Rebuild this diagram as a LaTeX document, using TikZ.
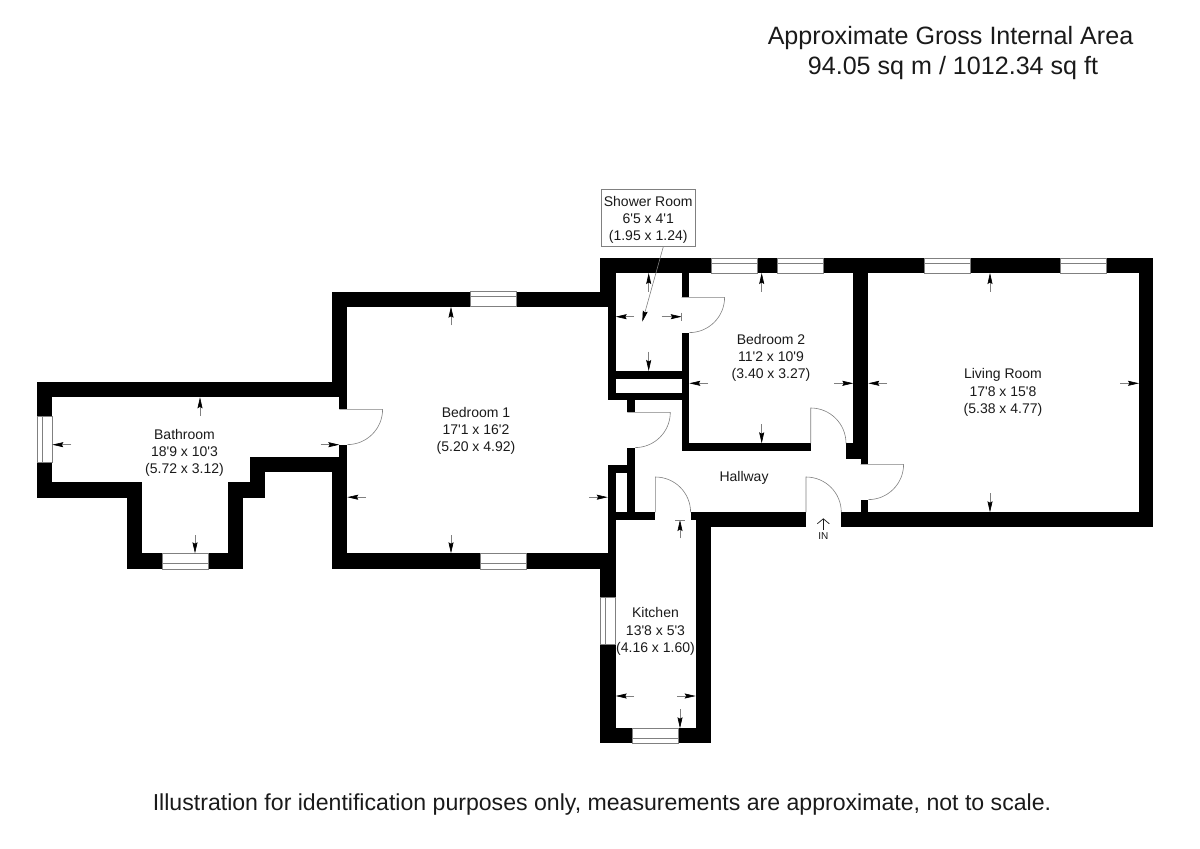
\documentclass[tikz,border=0pt]{standalone}
\usepackage{fontspec}
\setmainfont{Liberation Sans}
\usetikzlibrary{arrows.meta}
\definecolor{ink}{HTML}{1a1a1a}
\definecolor{thin}{HTML}{808080}
\newcommand{\ap}{\textquotesingle{}}
\tikzset{
  wallfill/.style={fill=black,draw=none},
  winbox/.style={fill=white,draw=thin,line width=0.6pt},
  winline/.style={draw=thin,line width=0.6pt},
  doorline/.style={draw=thin,line width=0.6pt},
  dimarrow/.style={draw=thin,line width=0.6pt,-{Stealth[length=11pt,width=5pt,inset=1.5pt,color=black]}},
  dimtick/.style={draw=thin,line width=0.6pt},
  roomlabel/.style={align=center,text=ink,inner sep=0pt,font=\fontsize{14}{17.3}\selectfont},
  titlelabel/.style={align=center,text=ink,inner sep=0pt,font=\fontsize{25.1}{30.5}\selectfont},
  notelabel/.style={text=ink,inner sep=0pt,font=\fontsize{23.1}{26}\selectfont},
  boxframe/.style={draw=thin,fill=white,line width=0.7pt,inner sep=0pt,minimum width=94pt,minimum height=57pt},
  inlabel/.style={text=ink,inner sep=0pt,font=\fontsize{10}{11}\selectfont},
  leader/.style={draw=thin,line width=0.6pt,-{Stealth[length=11pt,width=5pt,inset=1.5pt,color=black]}},
  inarrow/.style={draw=ink,line width=0.7pt,-{Straight Barb[length=5pt,width=12pt]}}
}
\begin{document}
\begin{tikzpicture}[x=1pt,y=-1pt]
\useasboundingbox (0,0) rectangle (1200,849);
% walls
\foreach \xa/\ya/\xb/\yb in {
  600/258/1153/273,        % top wall east wing
  600/258/615.7/307,       % shower west upper
  607.7/300/615.7/400,     % shower west lower
  607.7/371/689.3/378.7,   % shower floor
  607.7/392.7/689.3/400,   % cupboard floor
  681.7/273/689.3/297.3,   % shower east upper
  681.7/332.7/689.3/451,   % shower east lower
  681.7/443.3/810.7/451,   % bedroom 2 bottom
  853.3/273/868.3/459,     % bedroom 2 / living
  846/443.3/868.3/459,
  860.7/459/868.3/464.3,
  860.7/499.6/868.3/515,
  840.7/512.3/1153/527.3,  % living bottom
  1139/258/1153/527.3,     % living east
  627.3/400/635/412.3,     % hall stub
  627.3/447.6/635/520,     % hall west
  607.7/465/635/472.7,     % cupboard top
  607.7/465/615.7/569,     % cupboard / bedroom 1 east
  607.7/512.3/655.3/520,   % cupboard bottom
  690.7/512.3/806/520,     % hall bottom
  695.7/512.3/806/527.3,
  695.7/512.3/710.7/743.3, % kitchen east
  600/553.3/615.7/743.3,   % kitchen west
  600/728.3/710.7/743.3,   % kitchen south
  331.7/291.7/615.7/306.7, % bedroom 1 top
  331.7/291.7/347.3/397.3, % bedroom 1 west upper
  339.3/382.3/347.3/409.3,
  339.3/444.6/347.3/472,
  331.7/456.7/347.3/569,   % bedroom 1 west lower
  331.7/553.3/615.7/569,   % bedroom 1 bottom
  37/382.3/339.3/397.3,    % bathroom top
  37/382.3/52.3/497.7,     % bathroom west
  37/482.3/142.3/497.7,    % bathroom south-west
  127/482.3/142.3/569,
  127/553.3/243.3/569,     % bathroom bay bottom
  228.3/482.3/243.3/569,
  228.3/482.3/265/497.7,
  250/456.7/265/497.7,
  250/456.7/339.3/472      % bathroom south-east
}{ \path[wallfill] (\xa,\ya) rectangle (\xb,\yb); }
% horizontal windows (line a third in from the outer face)
\foreach \xa/\xb/\ya/\ym/\yb in {
  711.7/757.3/258/263/273,
  777.3/823.3/258/263/273,
  924/970/258/263/273,
  1060/1106/258/263/273,
  470/516/291.7/296.7/306.7,
  480/526/553.3/563.3/569,
  162.3/208.3/553.3/563.3/569,
  632.3/678.7/728.3/738.3/743.3
}{ \draw[winbox] (\xa,\ya) rectangle (\xb,\yb); \draw[winline] (\xa,\ym) -- (\xb,\ym); }
% vertical windows
\foreach \xa/\xm/\xb/\ya/\yb in {
  37/42/52.3/416.7/462.7,
  600/605/615.7/597.7/644
}{ \draw[winbox] (\xa,\ya) rectangle (\xb,\yb); \draw[winline] (\xm,\ya) -- (\xm,\yb); }
% doors
\draw[doorline] (681.7,297.3) -- (724.6,297.3) .. controls (724.6,316.8) and (708.8,332.6) .. (689.3,332.6);
\draw[doorline] (339.3,409.3) -- (382.6,409.3) .. controls (382.6,428.8) and (366.8,444.6) .. (347.3,444.6);
\draw[doorline] (627.3,412.3) -- (670.3,412.3) .. controls (670.3,431.8) and (654.5,447.6) .. (635,447.6);
\draw[doorline] (810.7,443.3) -- (810.7,408) .. controls (830.2,408) and (846,423.8) .. (846,443.3);
\draw[doorline] (860.7,464.3) -- (903.6,464.3) .. controls (903.6,483.8) and (887.8,499.6) .. (868.3,499.6);
\draw[doorline] (655.3,512.3) -- (655.3,477) .. controls (674.8,477) and (690.6,492.8) .. (690.6,512.3);
\draw[doorline] (806,512.3) -- (806,477) .. controls (825.5,477) and (841.3,492.8) .. (841.3,512.3);
% dimension arrows: tail / tip
\foreach \xa/\ya/\xb/\yb in {
  648.7/291.7/648.7/273,
  634/316.7/615.7/316.7,
  661.7/316.7/681.7/316.7,
  648.7/351.7/648.7/371,
  761.7/291.7/761.7/273,
  708/383.3/689.3/383.3,
  834.3/383.3/853.3/383.3,
  761.7/424.3/761.7/443.3,
  887/383.3/868.3/383.3,
  1120/383.3/1139/383.3,
  990/291.7/990/273,
  990/493/990/512.3,
  451/325.3/451/306.7,
  451/535/451/553.3,
  366/497.2/347.3/497.2,
  589/497.2/607.7/497.2,
  200/416/200/397.3,
  71.3/444.7/52.3/444.7,
  320.7/444.7/339.3/444.7,
  195/535/195/553.3,
  680/538.3/680/520,
  634/696/615.7/696,
  677.3/696/695.7/696,
  680/709.3/680/728.3
}{ \draw[dimarrow] (\xa,\ya) -- (\xb,\yb); }
\draw[dimtick] (681.2,312.7) -- (681.2,320.7);
\draw[dimtick] (675,520.3) -- (685,520.3);
% labels
\node[titlelabel] (title) at (950.5,53) {Approximate Gross Internal Area\\\hspace*{5pt}94.05 sq m / 1012.34 sq ft};
\node[roomlabel] (bath) at (184.5,453) {Bathroom\\18\ap9 x 10\ap3\\(5.72 x 3.12)};
\node[roomlabel] (bedone) at (476,431) {Bedroom 1\\17\ap1 x 16\ap2\\(5.20 x 4.92)};
\node[roomlabel] (bedtwo) at (771,358) {Bedroom 2\\11\ap2 x 10\ap9\\(3.40 x 3.27)};
\node[roomlabel] (living) at (1003,392.5) {Living Room\\17\ap8 x 15\ap8\\(5.38 x 4.77)};
\node[roomlabel] (hall) at (744,477.5) {Hallway};
\node[roomlabel] (kitchen) at (655.5,631.5) {Kitchen\\13\ap8 x 5\ap3\\(4.16 x 1.60)};
\node[boxframe] (showerbox) at (648.2,218) {};
\node[roomlabel] (shower) at (648.2,220) {Shower Room\\6\ap5 x 4\ap1\\(1.95 x 1.24)};
\node[notelabel] (note) at (602,805) {Illustration for identification purposes only, measurements are approximate, not to scale.};
\node[inlabel] (inword) at (823.3,536) {IN};
% leader and entrance arrow
\coordinate (leadstart) at (663.3,246.7);
\coordinate (leadtip) at (642.3,321.7);
\draw[leader] (leadstart) -- (leadtip);
\coordinate (intail) at (823.3,530);
\coordinate (intip) at (823.3,518.3);
\draw[inarrow] (intail) -- (intip);
\end{tikzpicture}
\end{document}
